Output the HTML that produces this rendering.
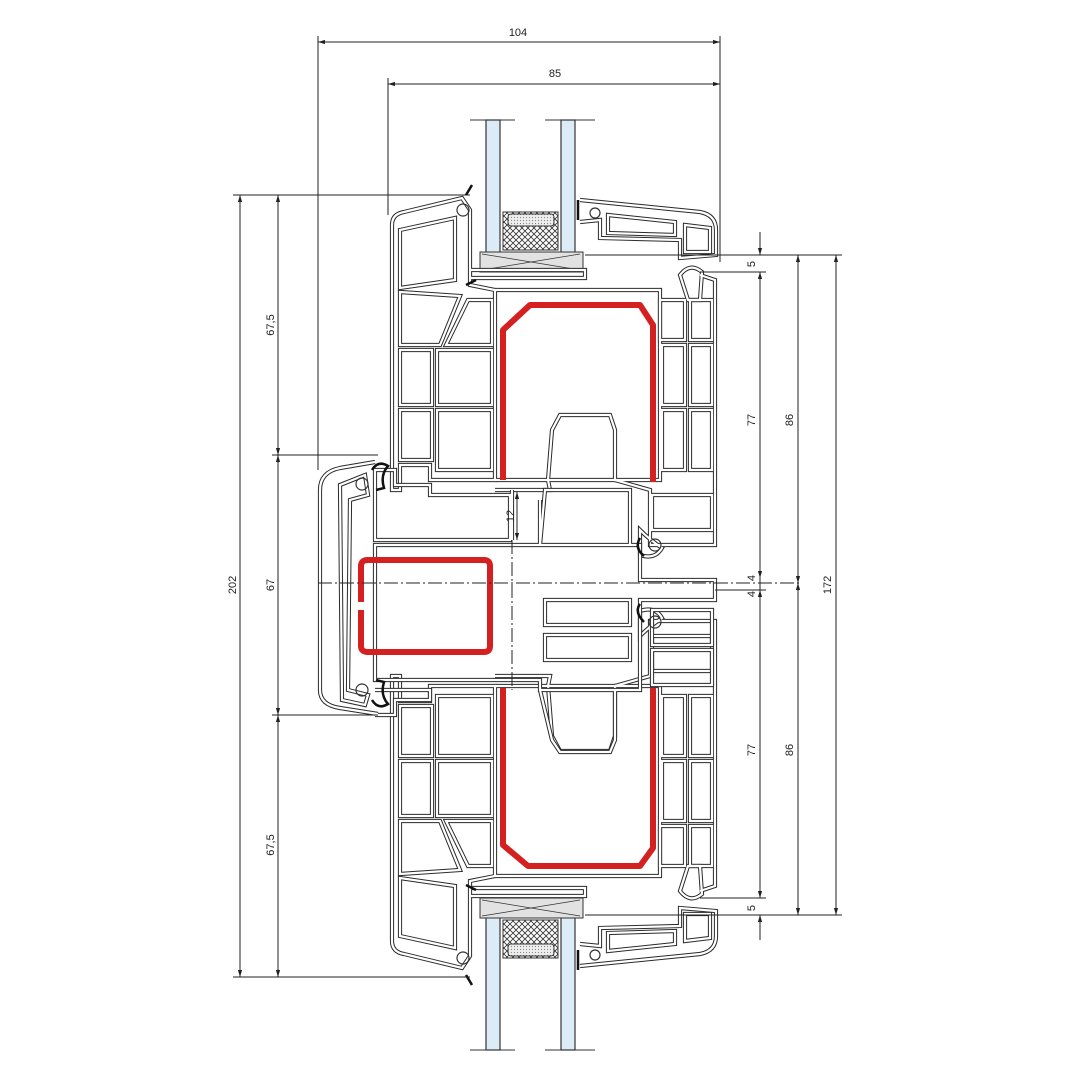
<!DOCTYPE html>
<html><head><meta charset="utf-8"><style>
html,body{margin:0;padding:0;background:#fff}
svg{display:block}
text{font-family:"Liberation Sans Narrow","Liberation Sans",sans-serif;font-size:11px;fill:#222}
</style></head><body>
<svg width="1080" height="1080" viewBox="0 0 1080 1080" xmlns="http://www.w3.org/2000/svg">
<defs>
<marker id="a" viewBox="0 0 10 10" refX="10" refY="5" markerWidth="7" markerHeight="7" orient="auto-start-reverse"><path d="M0,2 L10,5 L0,8z" fill="#222"/></marker>
<pattern id="hx" width="6" height="6" patternUnits="userSpaceOnUse"><path d="M0,0L6,6M6,0L0,6" stroke="#333" stroke-width="0.8"/></pattern>
<pattern id="dt" width="3" height="3" patternUnits="userSpaceOnUse"><rect width="3" height="3" fill="#eee"/><circle cx="1.5" cy="1.5" r="0.6" fill="#888"/></pattern>
<g id="sash" fill="none">
 <path d="M392,225 Q392,214 404,212 L462,198 L470,210 L470,285 L495,290 L495,480 L430,480 L430,465 L400,465 L400,490 L392,490 Z"/>
 <path d="M400,230 L455,218 L455,280 L400,288 Z"/>
 <path d="M400,292 L460,296 L440,345 L400,345 Z"/>
 <path d="M446,345 L492,345 L492,300 L468,300 Z"/>
 <path d="M400,350 L432,350 L432,405 L400,405 Z M437,350 L492,350 L492,405 L437,405 Z"/>
 <path d="M400,410 L432,410 L432,460 L400,460 Z M437,410 L492,410 L492,470 L437,470 Z"/>
 <path d="M495,290 L660,290 L660,480 L495,480"/>
 <path d="M495,490 L550,490 L548,480 L552,430 L560,415 L610,415 L615,430 L615,480 L650,490 L650,545 L715,545 L715,280 L700,275"/>
 <path d="M660,300 L685,300 L685,340 L660,340 Z M690,300 L712,300 L712,340 L690,340 Z"/>
 <path d="M662,345 L685,345 L685,405 L662,405 Z M690,345 L712,345 L712,405 L690,405 Z"/>
 <path d="M662,410 L685,410 L685,470 L662,470 Z M690,410 L712,410 L712,470 L690,470 Z"/>
 <path d="M652,495 L712,495 L712,530 L652,530 Z"/>
 <path d="M580,200 L700,212 Q716,215 716,230 L716,255 L680,258 L680,240 L600,238 L600,220 L580,222"/>
 <path d="M608,215 L675,222 L675,235 L608,233 Z M685,225 L710,228 L710,252 L685,252 Z"/>
 <path d="M470,270 L585,270 L585,278 L470,278"/>
 <path d="M680,275 Q690,262 702,272 L700,300 L688,300 Z"/>
 <path d="M640,530 Q650,540 662,548 Q655,560 640,555 Z"/>
</g>
</defs>

<g stroke="#333" stroke-width="1.2" fill="#dcecf6">
 <rect x="486" y="120" width="14" height="145"/>
 <rect x="561" y="120" width="14" height="145"/>
 <rect x="486" y="905" width="14" height="145"/>
 <rect x="561" y="905" width="14" height="145"/>
</g>
<g stroke="#333" stroke-width="1">
 <line x1="470" y1="120" x2="515" y2="120"/><line x1="545" y1="120" x2="595" y2="120"/>
 <line x1="470" y1="1050" x2="515" y2="1050"/><line x1="545" y1="1050" x2="595" y2="1050"/>
 <rect x="503" y="212" width="55" height="38" fill="url(#hx)"/>
 <rect x="508" y="214" width="46" height="12" rx="3" fill="url(#dt)"/>
 <rect x="503" y="920" width="55" height="38" fill="url(#hx)"/>
 <rect x="508" y="944" width="46" height="12" rx="3" fill="url(#dt)"/>
 <rect x="480" y="252" width="103" height="20" fill="#e2e2e2"/>
 <rect x="480" y="898" width="103" height="20" fill="#e2e2e2"/>
 <path d="M482,254 L580,270 M482,270 L580,254 M482,900 L580,916 M482,916 L580,900" stroke-width="0.7"/>
</g>

<use href="#sash" stroke="#2a2a2a" stroke-width="4.2"/>
<use href="#sash" stroke="#fff" stroke-width="2.2"/>
<g transform="translate(0,1166) scale(1,-1)">
<use href="#sash" stroke="#2a2a2a" stroke-width="4.2"/>
<use href="#sash" stroke="#fff" stroke-width="2.2"/>
</g>

<g id="fr" fill="none">
 <path d="M375,462 L340,468 Q320,472 320,490 L320,690 Q320,705 340,708 L378,714"/>
 <path d="M340,485 L365,475 L368,495 L350,500 L348,690 L368,695 L365,705 L342,700 Z"/>
 <path d="M375,470 L395,470 L395,485 L430,485 L430,495 L510,495 L510,540 L375,540 Z"/>
 <path d="M375,545 L640,545 L640,580 L715,580 L715,600 L640,600 L640,690 L540,690 L540,680 L375,680 Z"/>
 <path d="M375,690 L430,690 L430,700 L395,700 L395,715 L375,715"/>
 <path d="M512,490 L512,540 M540,500 L540,545 L545,490 L630,490 L630,545"/>
 <path d="M545,600 L630,600 L630,625 L545,625 Z M545,635 L630,635 L630,660 L545,660 Z"/>
 <path d="M652,610 L712,610 L712,645 L652,645 Z M652,650 L712,650 L712,685 L652,685 Z"/>
 <path d="M540,690 L552,740 L560,752 L610,752 L615,740 L615,690"/>
</g>
<use href="#fr" stroke="#2a2a2a" stroke-width="4.2"/>
<use href="#fr" stroke="#fff" stroke-width="2.2"/>
<g fill="none" stroke="#111" stroke-width="2.5">
 <path d="M372,470 Q378,460 388,466 Q380,475 384,488 L376,490"/>
 <path d="M372,700 Q378,710 388,704 Q380,695 384,682 L376,680"/>
 <path d="M640,538 Q634,548 644,556"/>
 <path d="M640,604 Q634,612 644,622"/>
 <path d="M466,195 L472,185 M466,285 L476,280 M466,885 L476,890 M466,975 L472,985"/>
 <path d="M578,200 L578,220 M578,950 L578,970"/>
</g>
<g fill="none" stroke="#333" stroke-width="1.2">
 <circle cx="362" cy="484" r="6"/><circle cx="362" cy="690" r="6"/>
 <circle cx="655" cy="545" r="6"/><circle cx="655" cy="622" r="6"/>
 <circle cx="463" cy="210" r="6"/><circle cx="463" cy="958" r="6"/>
 <circle cx="595" cy="213" r="5"/><circle cx="595" cy="955" r="5"/>
</g>

<g fill="none" stroke="#d42020" stroke-width="6" stroke-linejoin="round">
 <path d="M503,480 L503,330 L530,305 L640,305 L653,325 L653,482"/>
 <path d="M503,688 L503,845 L528,866 L640,866 L653,848 L653,688"/>
 <path d="M361,602 L361,566 Q361,560 368,560 L484,560 Q490,560 490,566 L490,646 Q490,652 484,652 L368,652 Q361,652 361,646 L361,610"/>
</g>

<g stroke="#222" stroke-width="1" fill="none">
 <line x1="318" y1="36" x2="318" y2="470"/>
 <line x1="720" y1="36" x2="720" y2="262"/>
 <line x1="388" y1="78" x2="388" y2="215"/>
 <line x1="318" y1="42" x2="720" y2="42" marker-start="url(#a)" marker-end="url(#a)"/>
 <line x1="388" y1="84" x2="720" y2="84" marker-start="url(#a)" marker-end="url(#a)"/>
 <line x1="233" y1="195" x2="470" y2="195"/>
 <line x1="233" y1="977" x2="470" y2="977"/>
 <line x1="272" y1="455" x2="378" y2="455"/>
 <line x1="272" y1="715" x2="378" y2="715"/>
 <line x1="240" y1="195" x2="240" y2="977" marker-start="url(#a)" marker-end="url(#a)"/>
 <line x1="278" y1="195" x2="278" y2="455" marker-start="url(#a)" marker-end="url(#a)"/>
 <line x1="278" y1="455" x2="278" y2="715" marker-start="url(#a)" marker-end="url(#a)"/>
 <line x1="278" y1="715" x2="278" y2="977" marker-start="url(#a)" marker-end="url(#a)"/>
 <line x1="585" y1="255" x2="842" y2="255"/>
 <line x1="700" y1="272" x2="766" y2="272"/>
 <line x1="700" y1="898" x2="766" y2="898"/>
 <line x1="585" y1="915" x2="842" y2="915"/>
 <line x1="715" y1="590" x2="766" y2="590"/>
 <line x1="318" y1="583" x2="800" y2="583" stroke-dasharray="14,3,2,3"/>
 <line x1="512" y1="540" x2="512" y2="690" stroke-dasharray="14,3,2,3"/>
 <line x1="760" y1="232" x2="760" y2="255" marker-end="url(#a)"/>
 <line x1="760" y1="272" x2="760" y2="578" marker-start="url(#a)" marker-end="url(#a)"/>
 <line x1="760" y1="590" x2="760" y2="898" marker-start="url(#a)" marker-end="url(#a)"/>
 <line x1="760" y1="915" x2="760" y2="940" marker-start="url(#a)"/>
 <line x1="760" y1="578" x2="760" y2="590"/>
 <line x1="798" y1="255" x2="798" y2="583" marker-start="url(#a)" marker-end="url(#a)"/>
 <line x1="798" y1="583" x2="798" y2="915" marker-start="url(#a)" marker-end="url(#a)"/>
 <line x1="836" y1="255" x2="836" y2="915" marker-start="url(#a)" marker-end="url(#a)"/>
 <line x1="517" y1="492" x2="517" y2="540" marker-start="url(#a)" marker-end="url(#a)"/>
</g>

<text x="518" y="36" text-anchor="middle">104</text>
<text x="555" y="77" text-anchor="middle">85</text>
<g text-anchor="middle">
<text transform="translate(236,585) rotate(-90)">202</text>
<text transform="translate(274,325) rotate(-90)">67,5</text>
<text transform="translate(274,585) rotate(-90)">67</text>
<text transform="translate(274,845) rotate(-90)">67,5</text>
<text transform="translate(514,516) rotate(-90)">12</text>
<text transform="translate(755,264) rotate(-90)">5</text>
<text transform="translate(755,420) rotate(-90)">77</text>
<text transform="translate(755,578) rotate(-90)">4</text>
<text transform="translate(755,594) rotate(-90)">4</text>
<text transform="translate(755,750) rotate(-90)">77</text>
<text transform="translate(755,908) rotate(-90)">5</text>
<text transform="translate(793,420) rotate(-90)">86</text>
<text transform="translate(793,750) rotate(-90)">86</text>
<text transform="translate(831,585) rotate(-90)">172</text>
</g>
</svg>
</body></html>
